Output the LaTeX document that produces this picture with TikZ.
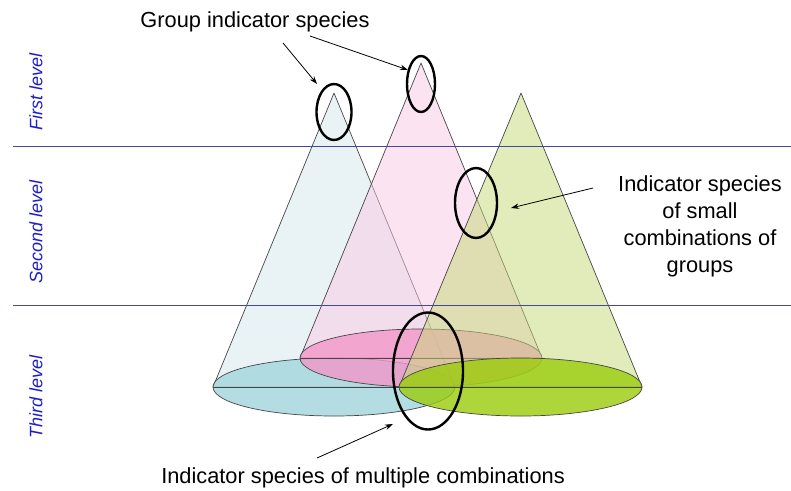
\documentclass[tikz,border=0pt]{standalone}
\usepackage{fontspec}
\setmainfont{Liberation Sans}
\usetikzlibrary{shapes.geometric,arrows.meta}

\definecolor{levelblue}{RGB}{30,30,200}
\definecolor{levelline}{RGB}{70,70,155}
\definecolor{outline}{RGB}{70,70,70}
\definecolor{conecyan}{RGB}{213,233,237}
\definecolor{conepink}{RGB}{249,201,229}
\definecolor{conegreen}{RGB}{197,219,119}
\definecolor{basecyan}{RGB}{161,213,220}
\definecolor{basepink}{RGB}{243,151,200}
\definecolor{basegreen}{RGB}{154,204,11}

\tikzset{
  conebody/.style={draw=outline, line width=0.7pt, fill opacity=0.5, line join=round},
  conebase/.style={draw=outline, line width=0.7pt, fill opacity=0.8},
  ring/.style={ellipse, draw=black, line width=2.4pt, inner sep=0pt, fill=none},
  pointer/.style={-{Stealth[length=8pt,width=5.5pt]}, line width=0.8pt, black},
  levellabel/.style={rotate=90, text=levelblue, font=\fontsize{18}{20}\selectfont\itshape},
  caption/.style={font=\fontsize{21.8}{27}\selectfont, text=black, inner sep=0pt},
  levelrule/.style={draw=levelline, line width=0.8pt}
}

\begin{document}
\begin{tikzpicture}[x=1pt,y=-1pt]
\useasboundingbox[fill=white] (0,0) rectangle (791,490);

% cyan cone
\coordinate (capex) at (334,93);
\coordinate (cl) at (213,387);
\coordinate (cr) at (455,387);
\path[conebody, fill=conecyan] (capex) -- (cl) -- (cr) -- cycle;
\path[conebase, fill=basecyan] (334,387) ellipse [x radius=121, y radius=29];
\draw[outline, line width=0.7pt] (cl) -- (cr);

% pink cone
\coordinate (papex) at (421,63);
\coordinate (pl) at (300,358);
\coordinate (pr) at (542,358);
\path[conebody, fill=conepink] (papex) -- (pl) -- (pr) -- cycle;
\path[conebase, fill=basepink] (421,358) ellipse [x radius=121, y radius=29];
\draw[outline, line width=0.7pt] (pl) -- (pr);

% green cone
\coordinate (gapex) at (521,93);
\coordinate (gl) at (399,387);
\coordinate (gr) at (642,387);
\path[conebody, fill=conegreen] (gapex) -- (gl) -- (gr) -- cycle;
\path[conebase, fill=basegreen] (520.5,387) ellipse [x radius=121.5, y radius=29];
\draw[outline, line width=0.7pt] (gl) -- (gr);

% level separators
\draw[levelrule] (13,146) -- (791,146);
\draw[levelrule] (13,305) -- (791,305);

% level labels
\node[levellabel] (lvl1) at (36,92) {First level};
\node[levellabel] (lvl2) at (36,232) {Second level};
\node[levellabel] (lvl3) at (36,397) {Third level};

% highlighted species rings
\node[ring, minimum width=35pt, minimum height=56pt] (ring1) at (334,112) {};
\node[ring, minimum width=28pt, minimum height=56pt] (ring2) at (421,84) {};
\node[ring, minimum width=42pt, minimum height=70pt] (ring3) at (476,203) {};
\node[ring, minimum width=70pt, minimum height=117pt] (ring4) at (428,371) {};

% captions
\node[caption, anchor=base] (grp) at (255,27) {Group indicator species};
\node[caption, align=center] (small) at (700,226) {Indicator species\\of small\\combinations of\\groups};
\node[caption, anchor=base] (multi) at (363,483) {Indicator species of multiple combinations};

% pointers
\coordinate (g1s) at (283,43);
\coordinate (g1e) at (317,84);
\coordinate (g2s) at (310,36);
\coordinate (g2e) at (408,70);
\coordinate (s1s) at (593,188);
\coordinate (s1e) at (511,208);
\coordinate (m1s) at (317,458);
\coordinate (m1e) at (393,424);
\draw[pointer] (g1s) -- (g1e);
\draw[pointer] (g2s) -- (g2e);
\draw[pointer] (s1s) -- (s1e);
\draw[pointer] (m1s) -- (m1e);
\end{tikzpicture}
\end{document}
